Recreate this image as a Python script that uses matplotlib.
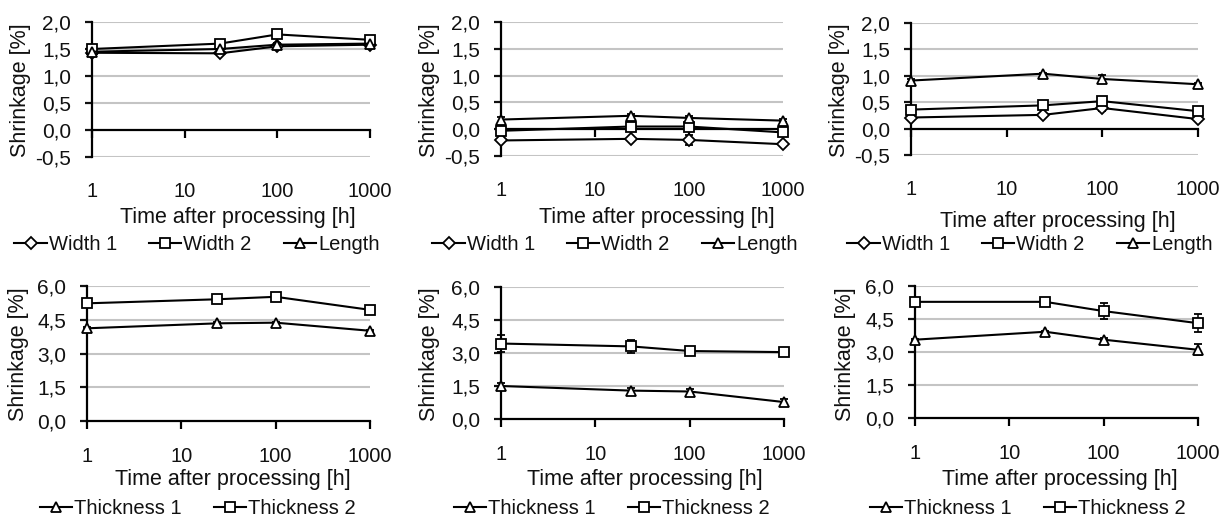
import matplotlib
matplotlib.use("Agg")
import matplotlib.pyplot as plt
from matplotlib.lines import Line2D

plt.rcParams['font.family'] = ['Liberation Sans', 'DejaVu Sans']

# ---------------- data ----------------
hours = [1, 24, 100, 1000]
x_tick_values = [1, 10, 100, 1000]
x_tick_labels = ["1", "10", "100", "1000"]

top_ticks = [-0.5, 0.0, 0.5, 1.0, 1.5, 2.0]
top_tick_labels = ["-0,5", "0,0", "0,5", "1,0", "1,5", "2,0"]
bot_ticks = [0.0, 1.5, 3.0, 4.5, 6.0]
bot_tick_labels = ["0,0", "1,5", "3,0", "4,5", "6,0"]

# panel 1 (top left)
p1_width1 = [1.43, 1.42, 1.55, 1.58]
p1_width2 = [1.50, 1.60, 1.77, 1.67]
p1_length = [1.45, 1.50, 1.58, 1.60]
p1_width1_err = [0.03, 0.03, 0.03, 0.02]
p1_width2_err = [0.02, 0.03, 0.03, 0.02]
p1_length_err = [0.03, 0.03, 0.03, 0.02]

# panel 2 (top middle)
p2_width1 = [-0.21, -0.18, -0.20, -0.28]
p2_width2 = [-0.03, 0.05, 0.05, -0.06]
p2_length = [0.18, 0.25, 0.21, 0.16]
p2_width1_err = [0.03, 0.03, 0.10, 0.03]
p2_width2_err = [0.03, 0.03, 0.04, 0.03]
p2_length_err = [0.04, 0.04, 0.04, 0.03]

# panel 3 (top right)
p3_width1 = [0.21, 0.26, 0.39, 0.18]
p3_width2 = [0.36, 0.44, 0.52, 0.33]
p3_length = [0.91, 1.04, 0.94, 0.84]
p3_width1_err = [0.04, 0.03, 0.05, 0.03]
p3_width2_err = [0.03, 0.03, 0.04, 0.03]
p3_length_err = [0.03, 0.02, 0.08, 0.02]

# panel 4 (bottom left)
p4_thick1 = [4.12, 4.34, 4.37, 4.01]
p4_thick2 = [5.23, 5.41, 5.52, 4.94]
p4_thick1_err = [0.05, 0.05, 0.05, 0.05]
p4_thick2_err = [0.05, 0.05, 0.05, 0.05]

# panel 5 (bottom middle)
p5_thick1 = [1.50, 1.29, 1.25, 0.77]
p5_thick2 = [3.43, 3.30, 3.09, 3.04]
p5_thick1_err = [0.12, 0.12, 0.12, 0.12]
p5_thick2_err = [0.40, 0.28, 0.08, 0.10]

# panel 6 (bottom right)
p6_thick1 = [3.56, 3.92, 3.56, 3.10]
p6_thick2 = [5.28, 5.28, 4.86, 4.31]
p6_thick1_err = [0.05, 0.05, 0.08, 0.25]
p6_thick2_err = [0.05, 0.05, 0.38, 0.40]

top_names = ["Width 1", "Width 2", "Length"]
top_markers = ["D", "s", "^"]
bot_names = ["Thickness 1", "Thickness 2"]
bot_markers = ["^", "s"]

# ---------------- layout ----------------
W, H = 1228, 522
fig = plt.figure(figsize=(W / 100, H / 100), dpi=100)

def frac_box(l, r, t, b):
    return [l / W, 1 - b / H, (r - l) / W, (b - t) / H]

panels = [
    dict(box=(92, 370, 22, 157), series=[p1_width1, p1_width2, p1_length],
         errs=[p1_width1_err, p1_width2_err, p1_length_err], top=True,
         xlab=(238, 217), leg=(197, 245), ylab=(21, 90)),
    dict(box=(501, 783, 22, 156), series=[p2_width1, p2_width2, p2_length],
         errs=[p2_width1_err, p2_width2_err, p2_length_err], top=True,
         xlab=(657, 218), leg=(615, 245), ylab=(430, 90)),
    dict(box=(911, 1198, 23, 155), series=[p3_width1, p3_width2, p3_length],
         errs=[p3_width1_err, p3_width2_err, p3_length_err], top=True,
         xlab=(1058, 221), leg=(1030, 245), ylab=(840, 90)),
    dict(box=(87, 370, 286, 421), series=[p4_thick1, p4_thick2],
         errs=[p4_thick1_err, p4_thick2_err], top=False,
         xlab=(233, 480), leg=(198, 509), ylab=(19, 354)),
    dict(box=(501, 784, 287, 419), series=[p5_thick1, p5_thick2],
         errs=[p5_thick1_err, p5_thick2_err], top=False,
         xlab=(645, 480), leg=(612, 509), ylab=(430, 354)),
    dict(box=(915, 1198, 286, 418), series=[p6_thick1, p6_thick2],
         errs=[p6_thick1_err, p6_thick2_err], top=False,
         xlab=(1060, 479), leg=(1028, 509), ylab=(845, 354)),
]

TXT = '#111111'
GRID = '#c4c4c4'

for p in panels:
    ax = fig.add_axes(frac_box(*p['box']))
    ax.set_xscale('log')
    ax.set_xlim(1, 1000)
    if p['top']:
        ax.set_ylim(-0.5, 2.0)
        yt, ytl = top_ticks, top_tick_labels
        names, markers = top_names, top_markers
    else:
        ax.set_ylim(0.0, 6.0)
        yt, ytl = bot_ticks, bot_tick_labels
        names, markers = bot_names, bot_markers

    ax.set_yticks(yt)
    ax.set_yticklabels(ytl)
    ax.set_xticks(x_tick_values)
    ax.set_xticklabels(x_tick_labels)
    ax.minorticks_off()
    for s in ['top', 'right', 'bottom']:
        ax.spines[s].set_visible(False)
    ax.spines['left'].set_linewidth(1.6)
    ax.spines['left'].set_color('black')
    ax.tick_params(axis='y', direction='out', length=5, width=1.6,
                   pad=10, labelsize=15, colors=TXT)
    ax.tick_params(axis='x', length=0, pad=(18 if p['top'] else 19),
                   labelsize=14.5, colors=TXT)
    for v in yt:
        if v == 0.0:
            continue
        ax.axhline(v, color=GRID, lw=1.5, zorder=0)

    # category axis line drawn at y = 0 with outward ticks
    lo, hi = ax.get_ylim()
    loc = (0.0 - lo) / (hi - lo)
    sec = ax.secondary_xaxis(loc)
    sec.set_xticks(x_tick_values)
    sec.set_xticklabels([])
    sec.minorticks_off()
    sec.spines['bottom'].set_linewidth(1.6)
    sec.spines['bottom'].set_color('black')
    sec.tick_params(axis='x', direction='out', length=6, width=1.6, labelsize=1)

    handles = []
    for vals, errs, mk, nm in zip(p['series'], p['errs'], markers, names):
        ms = 6.0 if mk == 'D' else 7.0
        ax.errorbar(hours, vals, yerr=errs, color='black', lw=1.5,
                    marker=mk, ms=ms, mfc='white', mec='black', mew=1.3,
                    capsize=3, elinewidth=1.1, capthick=1.1, zorder=3,
                    clip_on=False)
        handles.append(Line2D([], [], color='black', lw=1.5, marker=mk, ms=ms,
                              mfc='white', mec='black', mew=1.3, label=nm))

    ax.legend(handles=handles, loc='center', ncol=len(handles),
              bbox_to_anchor=(p['leg'][0] / W, 1 - p['leg'][1] / H),
              bbox_transform=fig.transFigure, frameon=False,
              fontsize=14.5, handlelength=1.6, handletextpad=0.1,
              columnspacing=1.6, borderpad=0, labelcolor=TXT)

    fig.text(p['xlab'][0] / W, 1 - p['xlab'][1] / H, "Time after processing [h]",
             ha='center', va='center', fontsize=15.5, color=TXT)
    fig.text(p['ylab'][0] / W, 1 - p['ylab'][1] / H, "Shrinkage [%]",
             ha='center', va='center', rotation=90, fontsize=15.5, color=TXT)

fig.savefig("out.png", dpi=100)
